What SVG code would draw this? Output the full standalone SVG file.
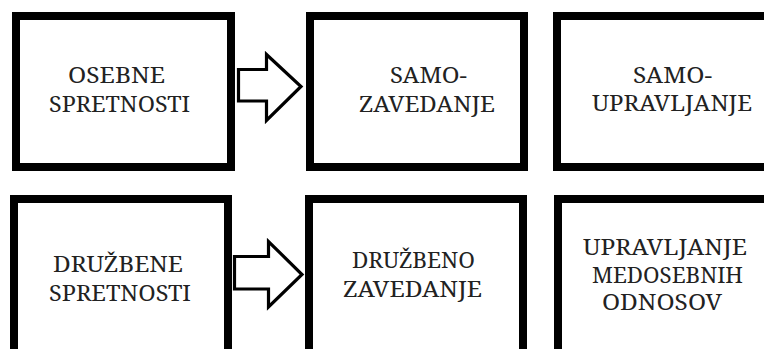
<svg xmlns="http://www.w3.org/2000/svg" width="764" height="349" viewBox="0 0 764 349">
  <style>
    .box { fill: #fff; stroke: #000; stroke-width: 8; }
    .arrow { fill: #fff; stroke: #000; stroke-width: 3.2; stroke-linejoin: miter; }
    .label { font-family: "Noto Serif", "Liberation Serif", "DejaVu Serif", serif; font-size: 22px; fill: #222; text-anchor: middle; }
  </style>
  <rect width="764" height="349" fill="#fff"/>

  <g id="connectors">
    <polygon class="arrow" points="238.5,69.5 266.5,69.5 266.5,54.5 301,86.5 266.5,120.5 266.5,101 238.5,101"/>
    <polygon class="arrow" points="234.5,256.5 268.5,256.5 268.5,241.5 302,274.5 268.5,307 268.5,289 234.5,289"/>
  </g>

  <g id="osebne-spretnosti">
    <rect class="box" x="16" y="16" width="215" height="151"/>
    <text class="label" x="116.5" y="83" textLength="97" lengthAdjust="spacingAndGlyphs">OSEBNE</text>
    <text class="label" x="119.5" y="112" textLength="141" lengthAdjust="spacingAndGlyphs">SPRETNOSTI</text>
  </g>

  <g id="samozavedanje">
    <rect class="box" x="310" y="16" width="214" height="151"/>
    <text class="label" x="428.5" y="83" textLength="77" lengthAdjust="spacingAndGlyphs">SAMO-</text>
    <text class="label" x="427" y="111.5" textLength="136" lengthAdjust="spacingAndGlyphs">ZAVEDANJE</text>
  </g>

  <g id="samoupravljanje">
    <rect class="box" x="557" y="16" width="220" height="151"/>
    <text class="label" x="672.5" y="83" textLength="79" lengthAdjust="spacingAndGlyphs">SAMO-</text>
    <text class="label" x="672" y="110.5" textLength="160" lengthAdjust="spacingAndGlyphs">UPRAVLJANJE</text>
  </g>

  <g id="druzbene-spretnosti">
    <rect class="box" x="14" y="199" width="214" height="170"/>
    <text class="label" x="118" y="272" textLength="130" lengthAdjust="spacingAndGlyphs">DRUŽBENE</text>
    <text class="label" x="120" y="300.5" textLength="142" lengthAdjust="spacingAndGlyphs">SPRETNOSTI</text>
  </g>

  <g id="druzbeno-zavedanje">
    <rect class="box" x="309" y="199" width="214" height="170"/>
    <text class="label" x="413.5" y="268" textLength="123" lengthAdjust="spacingAndGlyphs">DRUŽBENO</text>
    <text class="label" x="412.5" y="297" textLength="139" lengthAdjust="spacingAndGlyphs">ZAVEDANJE</text>
  </g>

  <g id="upravljanje-medosebnih-odnosov">
    <rect class="box" x="558" y="199" width="220" height="170"/>
    <text class="label" x="665" y="255" textLength="164" lengthAdjust="spacingAndGlyphs">UPRAVLJANJE</text>
    <text class="label" x="667.5" y="283" textLength="151" lengthAdjust="spacingAndGlyphs">MEDOSEBNIH</text>
    <text class="label" x="662" y="310" textLength="120" lengthAdjust="spacingAndGlyphs">ODNOSOV</text>
  </g>
</svg>
